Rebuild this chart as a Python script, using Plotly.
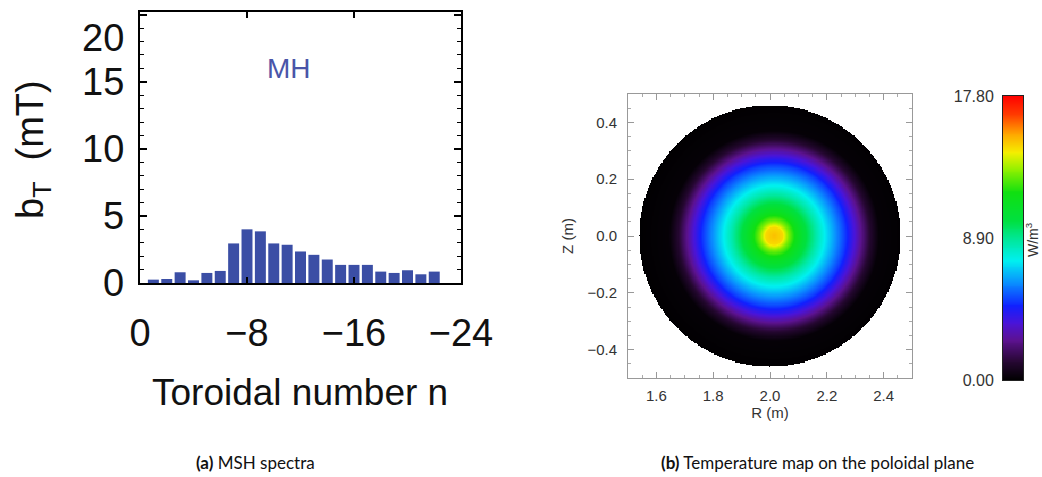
import numpy as np
import plotly.graph_objects as go

# ---------------- data: (a) MSH spectra ----------------
toroidal_n = [-1, -2, -3, -4, -5, -6, -7, -8, -9, -10, -11,
              -12, -13, -14, -15, -16, -17, -18, -19, -20, -21, -22]
bt_values = [0.25, 0.30, 0.80, 0.20, 0.75, 0.90, 2.95, 4.00, 3.85, 2.95, 2.85,
             2.35, 2.10, 1.75, 1.35, 1.35, 1.35, 0.85, 0.75, 0.95, 0.65, 0.85]
x_tickvals = [0, -8, -16, -24]
x_ticktext = ["0", "\u22128", "\u221216", "\u221224"]
y_tickvals = [0, 5, 10, 15, 20]
y_ticktext = ["0", "5", "10", "15", "20"]

# ---------------- data: (b) temperature map ----------------
# radial profile read from the map (distance from the hot centre, m -> W/m^3)
profile_r = [0.00, 0.03, 0.05, 0.08, 0.11, 0.15, 0.18, 0.22, 0.25, 0.28, 0.31, 0.34, 0.37, 0.50]
profile_T = [15.0, 14.6, 13.0, 11.3, 10.1, 8.5, 7.4, 6.0, 5.0, 3.7, 2.3, 1.0, 0.15, 0.0]
plasma_R0, plasma_Z0, plasma_a = 2.0, 0.0, 0.46
hot_R0, hot_Z0 = 2.015, 0.0
map_R_tickvals = [1.6, 1.8, 2.0, 2.2, 2.4]
map_Z_tickvals = [-0.4, -0.2, 0.0, 0.2, 0.4]
cbar_tickvals = [0.0, 8.9, 17.8]
cbar_ticktext = ["0.00", "8.90", "17.80"]

colorscale = [
    [0.00, "#000000"], [0.07, "#2a0838"], [0.14, "#5c1290"], [0.20, "#4a14d8"],
    [0.26, "#1020ff"], [0.34, "#0a8cff"], [0.42, "#00f0f0"], [0.49, "#00e8a0"],
    [0.56, "#00e040"], [0.66, "#10e010"], [0.74, "#90f000"], [0.80, "#f5f000"],
    [0.87, "#ffa000"], [0.93, "#ff4000"], [1.00, "#ff0000"],
]

W, H = 1042, 477
def px_x(a, b):
    return [a / W, b / W]
def px_y(top, bottom):
    return [1 - bottom / H, 1 - top / H]

fig = go.Figure()

# (a) bars
fig.add_trace(go.Bar(x=toroidal_n, y=bt_values, width=0.82,
                     marker=dict(color="#3B4EA5", line=dict(width=0)),
                     xaxis="x", yaxis="y", showlegend=False))

# (b) map grid built from the radial profile
Rg = np.arange(1.5, 2.5001, 0.004)
Zg = np.arange(-0.5, 0.5001, 0.004)
RR, ZZ = np.meshgrid(Rg, Zg)
dist = np.hypot(RR - hot_R0, ZZ - hot_Z0)
T = np.interp(dist, profile_r, profile_T)
T[np.hypot(RR - plasma_R0, ZZ - plasma_Z0) > plasma_a] = np.nan
fig.add_trace(go.Heatmap(x=Rg, y=Zg, z=T, zmin=0, zmax=17.8, colorscale=colorscale,
                         showscale=False, xaxis="x2", yaxis="y2", hoverinfo="skip"))

# colour bar strip
cb_levels = np.linspace(cbar_tickvals[0], cbar_tickvals[-1], 300)
fig.add_trace(go.Heatmap(x=[0], y=cb_levels, z=[[v] for v in cb_levels],
                         zmin=0, zmax=17.8, colorscale=colorscale, showscale=False,
                         xaxis="x3", yaxis="y3", hoverinfo="skip"))

lfont = dict(family="Liberation Sans, Arial", size=38, color="#111111")
rfont = dict(family="Liberation Sans, Arial", size=15, color="#333333")

fig.update_layout(
    width=W, height=H, margin=dict(l=0, r=0, t=0, b=0, autoexpand=False),
    paper_bgcolor="white", plot_bgcolor="white",
    xaxis=dict(domain=px_x(140, 461), range=[0, -24], tickvals=x_tickvals,
               ticktext=x_ticktext, tickfont=lfont, showgrid=False, zeroline=False,
               showline=True, linecolor="black", linewidth=2, mirror="allticks",
               ticks="inside", ticklen=6, tickwidth=2, tickcolor="black",
               ticklabelstandoff=15, automargin=False, ticklabeloverflow="allow"),
    yaxis=dict(domain=px_y(12, 283), range=[0, 20.2], tickvals=y_tickvals,
               showticklabels=False, showgrid=False, zeroline=False,
               showline=True, linecolor="black", linewidth=2, mirror="allticks",
               ticks="inside", ticklen=7, tickwidth=2, tickcolor="black",
               minor=dict(ticks="inside", ticklen=4, dtick=1, tickcolor="black", tickwidth=1),
               automargin=False),
    xaxis2=dict(domain=px_x(628, 912), range=[1.5, 2.5], tickvals=map_R_tickvals,
                tickformat=".1f", tickfont=rfont, showgrid=False, zeroline=False,
                showline=True, linecolor="#999999", linewidth=1, mirror="allticks",
                ticks="inside", ticklen=6, tickcolor="#999999",
                minor=dict(ticks="inside", ticklen=3, dtick=0.05, tickcolor="#aaaaaa"),
                anchor="y2", automargin=False, ticklabelstandoff=4,
                title=dict(text="R (m)", font=rfont, standoff=0)),
    yaxis2=dict(domain=px_y(94, 378), range=[-0.5, 0.5], tickvals=map_Z_tickvals,
                tickformat=".1f", tickfont=rfont, showgrid=False, zeroline=False,
                showline=True, linecolor="#999999", linewidth=1, mirror="allticks",
                ticks="inside", ticklen=6, tickcolor="#999999",
                minor=dict(ticks="inside", ticklen=3, dtick=0.05, tickcolor="#aaaaaa"),
                anchor="x2", ticklabelstandoff=7, automargin=False,
                title=dict(text="Z (m)", font=rfont, standoff=10)),
    xaxis3=dict(domain=px_x(1003, 1023), range=[-0.5, 0.5], showticklabels=False,
                ticks="", showgrid=False, zeroline=False, showline=True,
                linecolor="#222222", linewidth=1, mirror=True, anchor="y3",
                automargin=False),
    yaxis3=dict(domain=px_y(96, 380), range=[0, 17.8], tickvals=cbar_tickvals,
                ticktext=cbar_ticktext, tickfont=dict(rfont, size=16), ticks="",
                showgrid=False, zeroline=False, showline=True, linecolor="#222222",
                linewidth=1, mirror=True, anchor="x3", side="left",
                ticklabelstandoff=5, automargin=False, ticklabeloverflow="allow"),
)

annotations = []
# y tick labels of panel (a): placed at their tick values (top one kept inside the page)
for v, t in zip(y_tickvals, y_ticktext):
    annotations.append(dict(text=t, x=126 / W, xref="paper", y=v, yref="y",
                            xanchor="right", yanchor="top" if v == max(y_tickvals) else "middle",
                            showarrow=False, font=lfont))

for a in [
    dict(text="b<sub>T</sub>  (mT)", x=33 / W, y=1 - 150 / H, textangle=-90,
         font=dict(family="Liberation Sans, Arial", size=38, color="#111111")),
    dict(text="Toroidal number n", x=300 / W, y=1 - 392 / H,
         font=dict(family="Liberation Sans, Arial", size=37, color="#111111")),
    dict(text="MH", x=289 / W, y=1 - 68 / H,
         font=dict(family="Liberation Sans, Arial", size=28, color="#4A55A8")),
    dict(text="W/m<sup>3</sup>", x=1032 / W, y=1 - 240 / H, textangle=-90,
         font=dict(family="Liberation Sans, Arial", size=14, color="#333333")),
    dict(text="<b>(a)</b> MSH spectra", x=255 / W, y=1 - 462 / H,
         font=dict(family="Lato", size=17, color="#111111")),
    dict(text="<b>(b)</b> Temperature map on the poloidal plane", x=817 / W, y=1 - 462 / H,
         font=dict(family="Lato", size=17, color="#111111")),
]:
    a.update(xref="paper", yref="paper", showarrow=False, xanchor="center", yanchor="middle")
    annotations.append(a)
fig.update_layout(annotations=annotations)

fig.write_html("out.html", config={"displayModeBar": False},
               post_script="document.body.style.margin='0px';document.body.style.overflow='hidden';")
